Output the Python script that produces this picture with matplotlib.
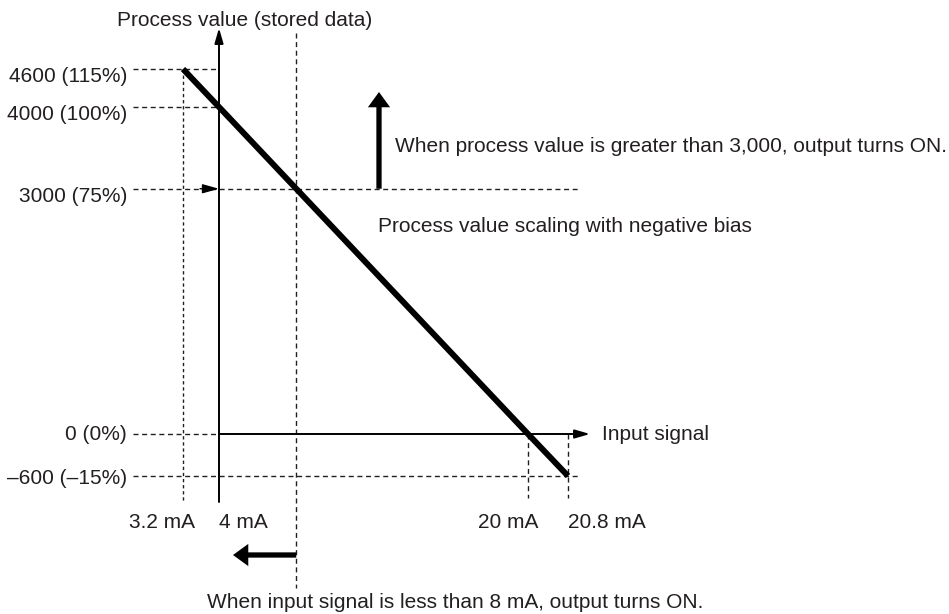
import numpy as np
import matplotlib
matplotlib.use("Agg")
import matplotlib.pyplot as plt
import matplotlib.transforms as mtransforms

# ---------------- data ----------------
signal_ma = [3.2, 4, 20, 20.8]            # input signal (mA) at the marked points
process_value = [4600, 4000, 0, -600]     # stored process value at those points
pv_ticks = [4600, 4000, 3000, 0, -600]
pv_labels = ["4600 (115%)", "4000 (100%)", "3000 (75%)", "0 (0%)", "\u2013600 (\u201315%)"]
signal_ticks = [3.2, 4, 20, 20.8]
signal_labels = ["3.2 mA", "4 mA", "20 mA", "20.8 mA"]
threshold_pv = 3000
threshold_ma = 8

TXT = "#231f20"
W, H = 949, 614

plt.rcParams["font.family"] = ["Liberation Sans", "DejaVu Sans"]

# diagram (not-to-scale) axis layout: piecewise-linear scales
def make_pw(kd, kp):
    kd = np.asarray(kd, float)
    kp = np.asarray(kp, float)
    s0 = (kp[1] - kp[0]) / (kd[1] - kd[0])
    s1 = (kp[-1] - kp[-2]) / (kd[-1] - kd[-2])
    big = 1e5
    kd2 = np.concatenate([[kd[0] - big], kd, [kd[-1] + big]])
    kp2 = np.concatenate([[kp[0] - big * s0], kp, [kp[-1] + big * s1]])
    fwd = lambda v: np.interp(v, kd2, kp2)
    inv = lambda v: np.interp(v, kp2, kd2)
    return fwd, inv

xf, xi = make_pw(signal_ma, [183, 219, 528, 568])
yf, yi = make_pw(process_value[::-1], [-476, -434, -107, -69])

def PX(px):
    return float(xi(px))

def PY(py):
    return float(yi(-py))

fig = plt.figure(figsize=(W / 100, H / 100), dpi=100)
ax = fig.add_axes([0, 0, 1, 1])
ax.set_xscale("function", functions=(xf, xi))
ax.set_yscale("function", functions=(yf, yi))
ax.set_xlim(PX(0), PX(W))
ax.set_ylim(PY(H), PY(0))
ax.axis("off")

T = mtransforms.Affine2D().scale(1 / W, -1 / H).translate(0, 1) + fig.transFigure

dash_kw = dict(color=TXT, lw=1.0, dashes=(3.6, 2.6), solid_capstyle="butt")
x_left = PX(133)
x_right = PX(578)
y_axis_x = signal_ma[1]

# horizontal dashed guide lines
for v in pv_ticks:
    end = x_right if v in (threshold_pv, process_value[-1]) else y_axis_x
    ax.plot([x_left, end], [v, v], **dash_kw)

# vertical dashed guide lines
ax.plot([signal_ma[0]] * 2, [process_value[0], PY(502)], color=TXT, lw=1.0,
        dashes=(2.4, 2.0))
ax.plot([threshold_ma] * 2, [PY(33), PY(588)], **dash_kw)
ax.plot([signal_ma[2]] * 2, [0, PY(498)], **dash_kw)
ax.plot([signal_ma[3]] * 2, [0, PY(498)], **dash_kw)

# axes with arrows
ax.annotate("", xy=(y_axis_x, PY(28)), xytext=(y_axis_x, PY(502)),
            arrowprops=dict(arrowstyle="-|>,head_length=0.9,head_width=0.26",
                            lw=1.4, color="black", shrinkA=0, shrinkB=0,
                            mutation_scale=10))
ax.annotate("", xy=(PX(590), 0), xytext=(y_axis_x, 0),
            arrowprops=dict(arrowstyle="-|>,head_length=0.9,head_width=0.26",
                            lw=1.4, color="black", shrinkA=0, shrinkB=0,
                            mutation_scale=10))
# small arrow on 3000 line pointing at the axis
ax.annotate("", xy=(y_axis_x, threshold_pv), xytext=(PX(200), threshold_pv),
            arrowprops=dict(arrowstyle="-|>,head_length=1.0,head_width=0.28",
                            lw=1.0, color="black", shrinkA=0, shrinkB=0,
                            mutation_scale=10))

# scaling line
ax.plot(signal_ma, process_value, color="black", lw=4.3, solid_capstyle="butt")

# thick annotation arrows
big_arrow = dict(arrowstyle="simple,head_length=1.1,head_width=1.6,tail_width=0.38",
                 mutation_scale=10, color="black", lw=0, shrinkA=0, shrinkB=0)
ax.annotate("", xy=(PX(379), PY(92)), xytext=(PX(379), threshold_pv), arrowprops=big_arrow)
ax.annotate("", xy=(PX(233), PY(555)), xytext=(threshold_ma, PY(555)), arrowprops=big_arrow)

fs = 15
# y tick labels
y_off = [7, 7, 8, 0, 3]
for v, lab, off in zip(pv_ticks, pv_labels, y_off):
    ax.annotate(lab, xy=(127, v), xycoords=(T, "data"), xytext=(0, -off * 0.72),
                textcoords="offset points", ha="right", va="center",
                fontsize=fs, color=TXT)

# x tick labels
x_ha = ["right", "left", "right", "left"]
x_off = [12, 0, 10, 0]
for v, lab, ha, off in zip(signal_ticks, signal_labels, x_ha, x_off):
    ax.annotate(lab, xy=(v, 523), xycoords=("data", T), xytext=(off * 0.72, 0),
                textcoords="offset points", ha=ha, va="center",
                fontsize=fs, color=TXT)

ax.text(245, 20, "Process value (stored data)", transform=T, ha="center", va="center",
        fontsize=fs, color=TXT)
ax.text(602, 434, "Input signal", transform=T, ha="left", va="center",
        fontsize=fs, color=TXT)
ax.text(395, 146, "When process value is greater than 3,000, output turns ON.",
        transform=T, ha="left", va="center", fontsize=fs, color=TXT)
ax.text(378, 227, "Process value scaling with negative bias", transform=T,
        ha="left", va="center", fontsize=fs, color=TXT)
ax.text(207, 603, "When input signal is less than 8 mA, output turns ON.",
        transform=T, ha="left", va="center", fontsize=fs, color=TXT)

fig.savefig("out.png", dpi=100)
